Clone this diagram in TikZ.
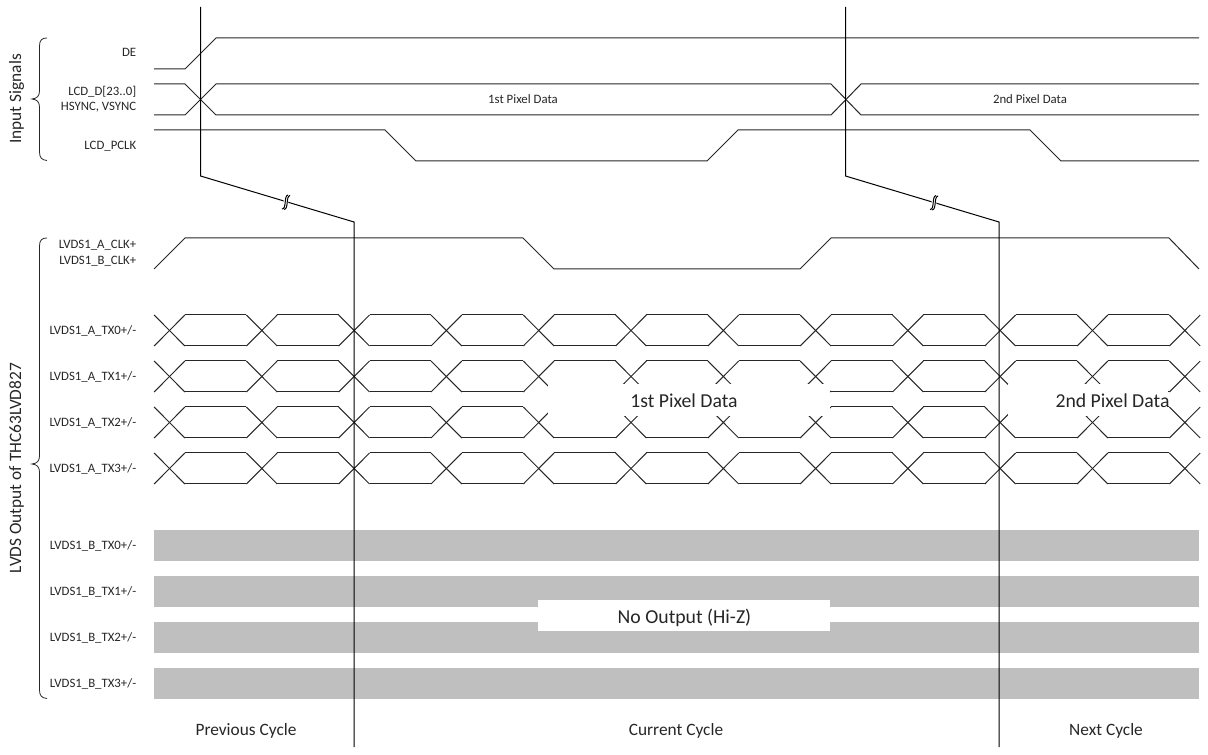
\documentclass[tikz,border=0pt]{standalone}
\usepackage{fontspec}
\setmainfont{Carlito}
\usetikzlibrary{arrows.meta, positioning, calc}

\begin{document}
\begin{tikzpicture}[
    x=0.75pt, y=-0.75pt,
    every node/.style={font=\rmfamily},
]

% ---------------------------------------------------------------- colours
\definecolor{c1}{HTML}{262626}   % the waveforms
\definecolor{c2}{HTML}{BFBFBF}   % the hi-z bars
\definecolor{c3}{HTML}{000000}   % the latency lines

% ================================================================
% Geometry in pixels (1 px = 0.75 pt).
%
%   waveforms x = 154 .. 1199, edge width 31
%   data eye period 92.3, first crossing at 169.5
%   latency lines x = 200.5 / 845.5, moved by 153.5 to 354 / 999
% ================================================================

\def\period{92.3}
\def\first{169.5}
\def\edge{15.4}

\tikzset{
    wave/.style={draw=c1, line width=0.75pt, line join=miter},
    latency/.style={draw=c3, line width=0.75pt},
    siglab/.style={font=\rmfamily\fontsize{9.6}{11}\selectfont, text=c1, anchor=east,
        inner sep=0pt, text height=8pt, text depth=2pt},
    datalab/.style={font=\rmfamily\fontsize{9.6}{11}\selectfont, text=c1,
        inner sep=0pt, text height=8pt, text depth=2pt},
    biglab/.style={font=\rmfamily\fontsize{14.8}{17}\selectfont, text=c1,
        inner sep=0pt, text height=12pt, text depth=2pt},
    cyclelab/.style={font=\rmfamily\fontsize{13}{15}\selectfont, text=c1,
        inner sep=0pt, text height=10pt, text depth=2pt},
    grouplab/.style={font=\rmfamily\fontsize{13}{15}\selectfont, text=c1, rotate=90, inner sep=0pt},
    hizbar/.style={fill=c2, draw=none},
    mask/.style={fill=white, draw=none},
    bracket/.style={draw=c1, line width=0.6pt},
}

\useasboundingbox (0,0) rectangle (1208,755);

% ================================================================ input signals
\draw[wave] (154,69) -- (185,69) -- (216,38) -- (1199,38);
\draw[wave] (154,84) -- (185,84) -- (216,115) -- (831,115) -- (861,84) -- (1199,84);
\draw[wave] (154,115) -- (185,115) -- (216,84) -- (831,84) -- (861,115) -- (1199,115);
\draw[wave] (154,130) -- (385,130) -- (416,161) -- (707,161) -- (738,130)
    -- (1030,130) -- (1061,161) -- (1199,161);

\node[siglab] (de) at (136.5,53) {DE};
\node[siglab] (lcdd) at (136.5,92) {LCD\_D[23..0]};
\node[siglab] (sync) at (136.5,107) {HSYNC, VSYNC};
\node[siglab] (pclk) at (136.5,146) {LCD\_PCLK};
\node[datalab] (pixa) at (523,99.5) {1st Pixel Data};
\node[datalab] (pixb) at (1030,99.5) {2nd Pixel Data};

% ================================================================ lvds clock
\draw[wave] (154,269) -- (185,238) -- (523,238) -- (554,269) -- (800,269)
    -- (831,238) -- (1169,238) -- (1199,269);

\node[siglab] (clka) at (136.5,245) {LVDS1\_A\_CLK+};
\node[siglab] (clkb) at (136.5,261) {LVDS1\_B\_CLK+};

% ================================================================ data eyes
\foreach \row/\ytop in {0/315, 1/361, 2/407, 3/453} {
    \pgfmathsetmacro{\ybot}{\ytop+31}
    \node[siglab] (txa\row) at (136.5,\ytop+15.5) {LVDS1\_A\_TX\row+/-};
    \foreach \i in {0,...,11} {
        \pgfmathsetmacro{\xa}{\first+\i*\period}
        \pgfmathsetmacro{\xb}{\xa+\period}
        \draw[wave] (\xa-\edge,\ytop) -- (\xa+\edge,\ybot);
        \draw[wave] (\xa-\edge,\ybot) -- (\xa+\edge,\ytop);
        \ifnum\i<11
            \draw[wave] (\xa+\edge,\ytop) -- (\xb-\edge,\ytop);
            \draw[wave] (\xa+\edge,\ybot) -- (\xb-\edge,\ybot);
        \fi
    }
}

% the two pixel labels sit on masks cut out of rows TX1 and TX2
\fill[mask] (547.7,384.5) rectangle (830,416);
\fill[mask] (1007.5,384.5) rectangle (1167.5,416);
\node[biglab] (dataa) at (684,401) {1st Pixel Data};
\node[biglab] (datab) at (1112.5,401) {2nd Pixel Data};

% ================================================================ hi-z bars
\foreach \row/\ytop in {0/530, 1/576, 2/622, 3/668} {
    \fill[hizbar] (154,\ytop) rectangle (1199,\ytop+31);
    \node[siglab] (txb\row) at (136.5,\ytop+15.5) {LVDS1\_B\_TX\row+/-};
}
\fill[mask] (538,600) rectangle (830,631);
\node[biglab] (hiz) at (684.5,616.5) {No Output (Hi-Z)};

% ================================================================ latency lines
\foreach \xa/\xb/\xm/\ym in {200.5/354/286/202, 845.5/999/934/202.5} {
    \draw[latency] (\xa,7) -- (\xa,176) -- (\xb,222) -- (\xb,747);
    % the break mark on the sloped part
    \fill[white] (\xm-2.5,\ym-5) -- (\xm+2,\ym-4) -- (\xm+2.5,\ym+5) -- (\xm-2,\ym+4) -- cycle;
    \draw[latency] (\xm-4,\ym+7) .. controls (\xm+1,\ym+7) and (\xm-2.5,\ym-6) .. (\xm+2,\ym-7);
    \draw[latency] (\xm-2,\ym+7.5) .. controls (\xm+3,\ym+7) and (\xm-0.5,\ym-5.5) .. (\xm+4,\ym-6.5);
}

% ================================================================ brackets
\draw[bracket] (47,38) .. controls (42,38) and (39.5,40) .. (39.5,46) -- (39.5,91)
    .. controls (39.5,96) and (37,98.5) .. (32,99)
    .. controls (37,99.5) and (39.5,102) .. (39.5,107) -- (39.5,152)
    .. controls (39.5,158) and (42,160) .. (47,160.5);
\draw[bracket] (47,238) .. controls (42,238) and (39.5,240) .. (39.5,246) -- (39.5,456)
    .. controls (39.5,461) and (37,463.5) .. (32,464)
    .. controls (37,464.5) and (39.5,467) .. (39.5,472) -- (39.5,690)
    .. controls (39.5,696) and (42,698) .. (47,698.5);

\node[grouplab] (inputs) at (16.5,99) {Input Signals};
\node[grouplab] (outputs) at (16.5,468) {LVDS Output of THC63LVD827};

% ================================================================ cycles
\node[cyclelab] (prev) at (246,730) {Previous Cycle};
\node[cyclelab] (curr) at (676,730) {Current Cycle};
\node[cyclelab] (next) at (1106,730) {Next Cycle};

\end{tikzpicture}
\end{document}
